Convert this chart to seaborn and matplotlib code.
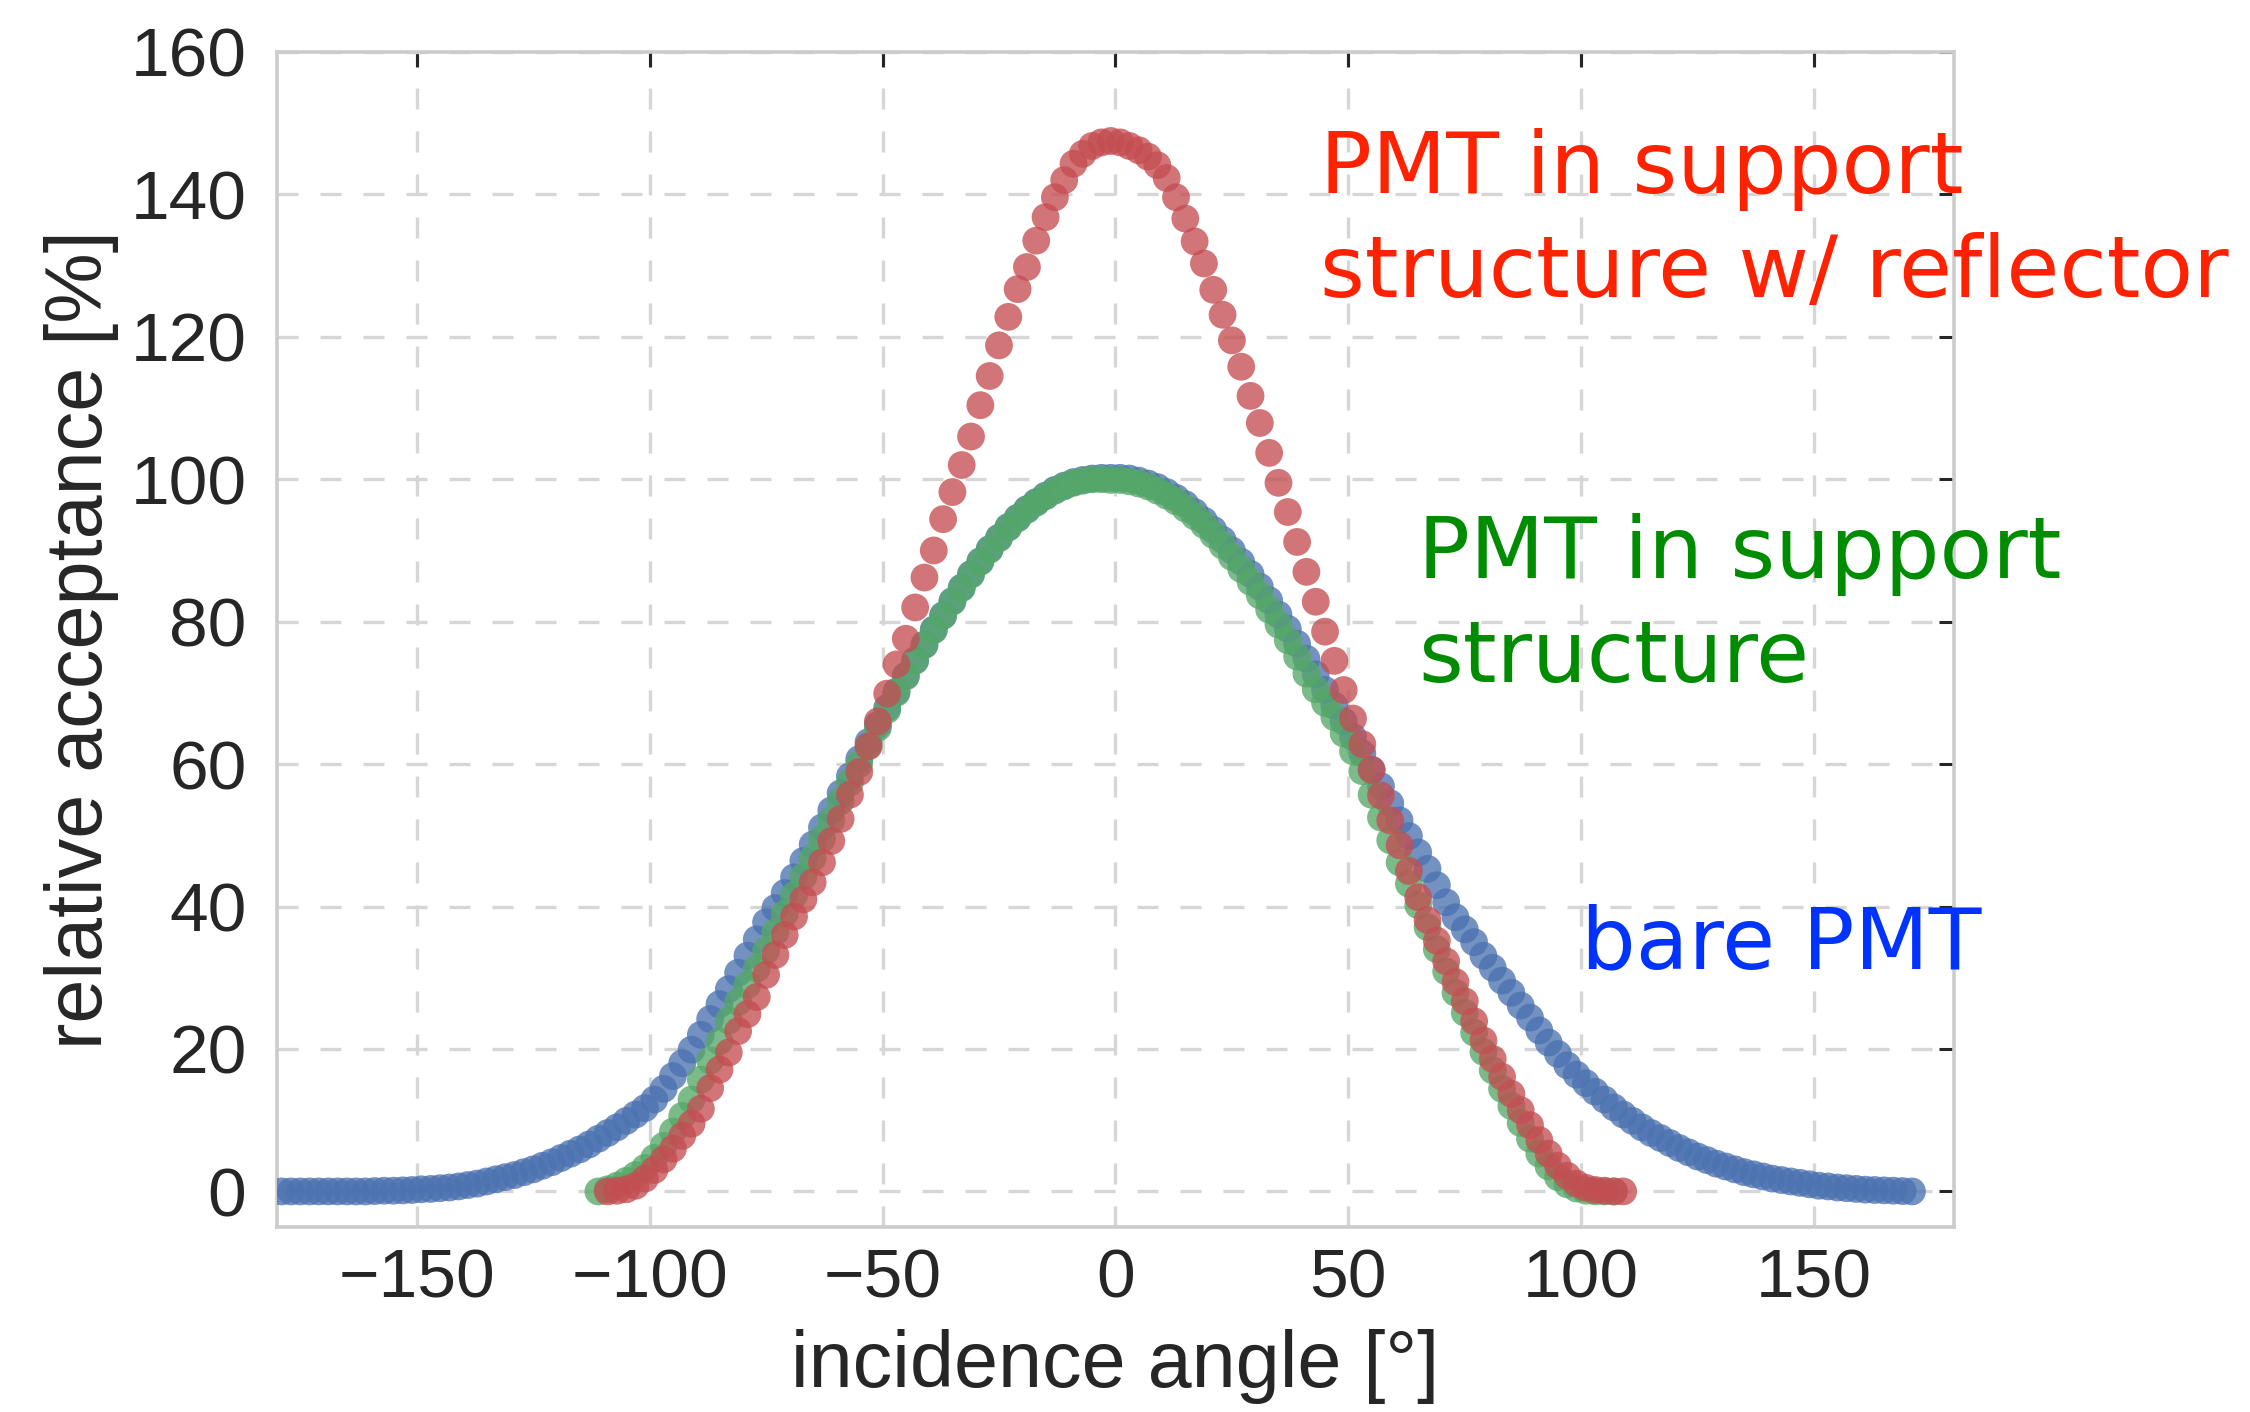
import numpy as np
import pandas as pd
import matplotlib
matplotlib.use("Agg")
import matplotlib.pyplot as plt
import seaborn as sns

# ---------------- data ----------------
bare_angle = list(range(-179, 172, 2))
bare_acc = (
    [0.0] * 10 +
    [0.05, 0.1, 0.1, 0.15, 0.2, 0.3, 0.35, 0.45, 0.55, 0.7,      # -159 .. -141
     0.9, 1.1, 1.4, 1.7, 2.0, 2.3, 2.7, 3.1, 3.6, 4.1,          # -139 .. -121
     4.7, 5.3, 5.9, 6.6, 7.4, 8.2, 9.0, 9.9, 10.8, 11.7,        # -119 .. -101
     12.9, 14.4, 16.2, 18.0, 19.9, 22.0, 24.2, 26.3, 28.4, 30.7,  # -99 .. -81
     33.1, 35.4, 37.8, 39.8, 41.9, 44.1, 46.4, 48.7, 51.1, 53.5,  # -79 .. -61
     55.9, 58.3, 60.7, 63.1, 65.5, 67.9, 70.2, 72.4, 74.6, 76.8,  # -59 .. -41
     78.9, 80.9, 82.9, 84.8, 86.7, 88.5, 90.2, 91.8, 93.3, 94.6,  # -39 .. -21
     95.8, 96.8, 97.7, 98.5, 99.1, 99.6, 99.9, 100.1, 100.2, 100.2,  # -19 .. -1
     100.2, 100.1, 99.8, 99.4, 98.9, 98.2, 97.4, 96.5, 95.4, 94.2,   # 1 .. 19
     92.9, 91.5, 90.0, 88.4, 86.7, 84.9, 83.0, 81.0, 79.0, 76.9,     # 21 .. 39
     74.8, 72.6, 70.4, 68.2, 66.0, 63.8, 61.5, 59.2, 56.9, 54.5,     # 41 .. 59
     52.1, 49.9, 47.6, 45.3, 43.0, 40.6, 38.5, 36.8, 35.0, 33.1,     # 61 .. 79
     31.4, 29.6, 27.9, 26.1, 24.4, 22.6, 20.9, 19.3, 17.7, 16.4,     # 81 .. 99
     15.2, 14.0, 12.9, 11.8, 10.8, 9.9, 9.0, 8.2, 7.5, 6.8,          # 101 .. 119
     6.1, 5.5, 4.9, 4.4, 3.9, 3.5, 3.1, 2.7, 2.4, 2.1,               # 121 .. 139
     1.8, 1.6, 1.4, 1.2, 1.0, 0.8, 0.7, 0.55, 0.45, 0.35,            # 141 .. 159
     0.25, 0.2, 0.15, 0.1, 0.05, 0.0]                                # 161 .. 171
)

support_angle = list(range(-111, 108, 2))
support_acc = [
    0.0, 0.3, 0.8, 1.5, 2.3, 3.3, 4.7, 6.4, 8.4, 10.6,        # -111 .. -93
    12.9, 15.7, 18.4, 21.1, 24.0, 26.6, 29.0, 31.3, 33.8, 36.4,  # -91 .. -73
    39.0, 41.6, 44.2, 46.8, 49.5, 52.1, 54.8, 57.4, 60.0, 62.6,  # -71 .. -53
    65.1, 67.6, 70.0, 72.3, 74.5, 76.7, 78.8, 80.8, 82.8, 84.7,  # -51 .. -33
    86.6, 88.4, 90.1, 91.7, 93.2, 94.5, 95.7, 96.7, 97.6, 98.4,  # -31 .. -13
    99.0, 99.5, 99.8, 100.0, 100.0, 99.9,                        # -11 .. -1
    99.9, 99.7, 99.4, 99.0, 98.4, 97.7, 96.9, 95.9, 94.8, 93.6,  # 1 .. 19
    92.2, 90.7, 89.1, 87.4, 85.6, 83.7, 81.7, 79.6, 77.4, 75.1,  # 21 .. 39
    72.7, 70.5, 68.6, 66.6, 64.3, 61.8, 59.0, 55.7, 52.5, 49.3,  # 41 .. 59
    46.2, 43.2, 40.2, 37.1, 34.0, 30.9, 27.9, 25.1, 22.3, 19.6,  # 61 .. 79
    17.0, 14.4, 12.0, 9.6, 7.4, 5.3, 3.5, 2.0, 1.0, 0.4,         # 81 .. 99
    0.1, 0.0, 0.0, 0.0,                                          # 101 .. 107
]

reflector_angle = list(range(-109, 110, 2))
reflector_acc = [
    0.0, 0.1, 0.3, 0.8, 1.8, 3.0, 4.5, 6.0, 7.8, 9.5,            # -109 .. -91
    11.6, 14.5, 17.1, 19.5, 22.5, 24.9, 27.3, 30.4, 33.2, 36.0,  # -89 .. -71
    38.6, 41.0, 43.4, 46.2, 49.2, 52.3, 55.7, 58.9, 62.5, 66.0,  # -69 .. -51
    69.9, 74.0, 77.6, 82.0, 86.2, 90.0, 94.4, 98.2, 102.0, 106.0,  # -49 .. -31
    110.4, 114.5, 118.8, 122.8, 126.7, 129.8, 133.5, 136.8, 139.6, 142.0,  # -29 .. -11
    144.3, 145.7, 146.8, 147.3, 147.5,                           # -9 .. -1
    147.3, 146.8, 146.2, 145.3, 144.1, 142.3, 139.6, 136.6, 133.4, 130.3,  # 1 .. 19
    126.6, 123.1, 119.5, 115.8, 111.7, 107.9, 103.7, 99.5, 95.4, 91.2,     # 21 .. 39
    87.0, 82.8, 78.6, 74.5, 70.4, 66.4, 62.8, 59.2, 55.6, 52.1,            # 41 .. 59
    48.6, 45.0, 41.3, 38.1, 35.2, 32.3, 29.4, 26.7, 23.9, 21.2,            # 61 .. 79
    18.6, 16.1, 13.7, 11.4, 9.3, 7.2, 5.3, 3.6, 2.2, 1.1,                  # 81 .. 99
    0.5, 0.2, 0.1, 0.0, 0.0,                                               # 101 .. 109
]

series_names = ["bare PMT", "PMT in support structure", "PMT in support structure w/ reflector"]
series_colors = ["#4C72B0", "#55A868", "#C44E52"]
label_colors = ["#0033FF", "#008C00", "#FF2200"]
label_texts = ["bare PMT", "PMT in support\nstructure", "PMT in support\nstructure w/ reflector"]
label_pos = [(100, 31.3), (65, 71.6), (44, 125.6)]

x_ticks = [-150, -100, -50, 0, 50, 100, 150]
y_ticks = [0, 20, 40, 60, 80, 100, 120, 140, 160]

df = pd.concat([
    pd.DataFrame({"angle": bare_angle, "acc": bare_acc, "series": series_names[0]}),
    pd.DataFrame({"angle": support_angle, "acc": support_acc, "series": series_names[1]}),
    pd.DataFrame({"angle": reflector_angle, "acc": reflector_acc, "series": series_names[2]}),
], ignore_index=True)

# ---------------- style ----------------
sns.set_theme(style="whitegrid")
plt.rcParams["font.family"] = ["Liberation Sans", "DejaVu Sans"]
plt.rcParams["text.color"] = "#262626"
plt.rcParams["axes.labelcolor"] = "#262626"

fig = plt.figure(figsize=(22.5, 14.12), dpi=100)
ax = fig.add_axes([0.1231, 0.131, 0.7453, 0.8322])

sns.scatterplot(data=df, x="angle", y="acc", hue="series",
                palette=dict(zip(series_names, series_colors)),
                s=400, alpha=0.78, linewidth=0, legend=False, ax=ax, zorder=3)

ax.set_xlim(-180, 180)
ax.set_ylim(-5, 160)
ax.set_xticks(x_ticks)
ax.set_yticks(y_ticks)

ax.grid(True, color="#d6d6d6", linewidth=2.4, linestyle=(0, (6.3, 6.6)))
ax.set_axisbelow(True)
for sp in ax.spines.values():
    sp.set_color("#cccccc")
    sp.set_linewidth(2.6)

ax.tick_params(axis="both", which="major", direction="in", length=11, width=2.2,
               color="#262626", labelsize=50, labelcolor="#262626",
               top=True, right=True, labeltop=False, labelright=False)
ax.tick_params(axis="x", pad=15)
ax.tick_params(axis="y", pad=22)

ax.set_xlabel("incidence angle [°]", fontsize=57, labelpad=12)
ax.set_ylabel("relative acceptance [%]", fontsize=57, labelpad=8)

for txt, col, (tx, ty) in zip(label_texts, label_colors, label_pos):
    ax.text(tx, ty, txt, color=col, fontsize=62, family="DejaVu Sans",
            ha="left", va="baseline", linespacing=1.32, zorder=4)

fig.savefig("out.png", dpi=100)
